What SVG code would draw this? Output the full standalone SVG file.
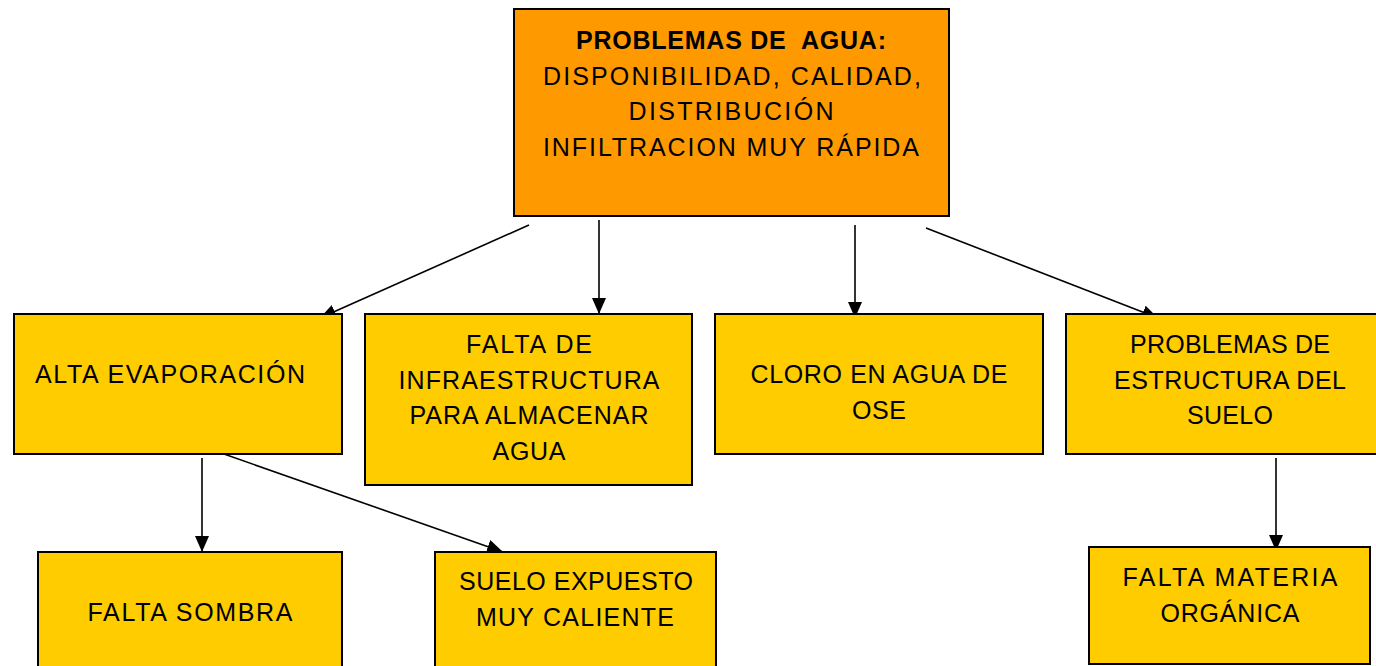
<svg xmlns="http://www.w3.org/2000/svg" width="1376" height="666" viewBox="0 0 1376 666">
<style>
.box{fill:#FFCC00;stroke:#000;stroke-width:2}
.top{fill:#FF9900;stroke:#000;stroke-width:2}
text{font-family:"Liberation Sans",Arial,sans-serif;font-size:25px;fill:#000;text-anchor:middle}
.b{font-weight:bold;white-space:pre}
.c line{stroke:#000;stroke-width:1.6;fill:none}
</style>
<defs>
<marker id="ah" markerUnits="userSpaceOnUse" markerWidth="17" markerHeight="14" refX="16" refY="7" orient="auto">
<path d="M0,0 L16,7 L0,14 Z" fill="#000"/>
</marker>
</defs>
<rect width="1376" height="666" fill="#fff"/>
<g class="c" id="connectors">
<line x1="529" y1="225" x2="320" y2="318" marker-end="url(#ah)"/>
<line x1="599" y1="220" x2="599" y2="314" marker-end="url(#ah)"/>
<line x1="855" y1="225" x2="855" y2="318" marker-end="url(#ah)"/>
<line x1="926" y1="228" x2="1158" y2="318" marker-end="url(#ah)"/>
<line x1="202" y1="458" x2="202" y2="552" marker-end="url(#ah)"/>
<line x1="224" y1="454" x2="503" y2="552" marker-end="url(#ah)"/>
<line x1="1276" y1="458" x2="1276" y2="551" marker-end="url(#ah)"/>
</g>
<g id="n-top">
<rect class="top" x="514" y="9" width="435" height="207"/>
<text class="b" x="731" y="49" xml:space="preserve" textLength="310" lengthAdjust="spacing">PROBLEMAS DE  AGUA:</text>
<text x="732" y="85" textLength="378" lengthAdjust="spacing">DISPONIBILIDAD, CALIDAD,</text>
<text x="731" y="120" textLength="205" lengthAdjust="spacing">DISTRIBUCIÓN</text>
<text x="731" y="156" textLength="376" lengthAdjust="spacing">INFILTRACION MUY RÁPIDA</text>
</g>
<g id="n-evap">
<rect class="box" x="14" y="314" width="328" height="140"/>
<text x="170" y="383" textLength="270" lengthAdjust="spacing">ALTA EVAPORACIÓN</text>
</g>
<g id="n-infra">
<rect class="box" x="365" y="314" width="327" height="171"/>
<text x="529" y="353" textLength="126" lengthAdjust="spacing">FALTA DE</text>
<text x="529" y="389" textLength="261" lengthAdjust="spacing">INFRAESTRUCTURA</text>
<text x="529" y="424" textLength="239" lengthAdjust="spacing">PARA ALMACENAR</text>
<text x="529" y="460" textLength="73" lengthAdjust="spacing">AGUA</text>
</g>
<g id="n-cloro">
<rect class="box" x="715" y="314" width="328" height="140"/>
<text x="879" y="383" textLength="257" lengthAdjust="spacing">CLORO EN AGUA DE</text>
<text x="879" y="419" textLength="54" lengthAdjust="spacing">OSE</text>
</g>
<g id="n-suelo">
<rect class="box" x="1066" y="314" width="320" height="140"/>
<text x="1230" y="353" textLength="200" lengthAdjust="spacing">PROBLEMAS DE</text>
<text x="1230" y="389" textLength="232" lengthAdjust="spacing">ESTRUCTURA DEL</text>
<text x="1230" y="424" textLength="86" lengthAdjust="spacing">SUELO</text>
</g>
<g id="n-sombra">
<rect class="box" x="38" y="552" width="304" height="130"/>
<text x="190" y="621" textLength="205" lengthAdjust="spacing">FALTA SOMBRA</text>
</g>
<g id="n-expuesto">
<rect class="box" x="435" y="552" width="281" height="130"/>
<text x="576" y="590" textLength="234" lengthAdjust="spacing">SUELO EXPUESTO</text>
<text x="575" y="626" textLength="198" lengthAdjust="spacing">MUY CALIENTE</text>
</g>
<g id="n-materia">
<rect class="box" x="1089" y="547" width="281" height="117"/>
<text x="1230" y="586" textLength="215" lengthAdjust="spacing">FALTA MATERIA</text>
<text x="1230" y="622" textLength="139" lengthAdjust="spacing">ORGÁNICA</text>
</g>
</svg>
